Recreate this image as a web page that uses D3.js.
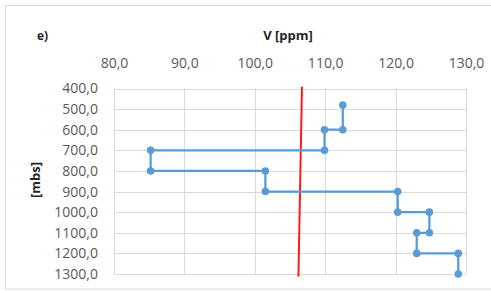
<!DOCTYPE html>
<html>
<head>
<meta charset="utf-8">
<script src="https://cdn.jsdelivr.net/npm/d3@7"></script>
<style>
  body { margin: 0; background: #fff; }
  svg { display: block; font-family: 'Open Sans', sans-serif; }
</style>
</head>
<body>
<div id="chart"></div>
<script>
// V [ppm] profile against depth (step line) + reference line
const vValues = [112.5, 112.5, 109.9, 109.9, 85.2, 85.2, 101.5, 101.5, 120.3, 120.3, 124.8, 124.8, 123.0, 123.0, 128.9, 128.9];
const depths  = [480, 600, 600, 700, 700, 800, 800, 900, 900, 1000, 1000, 1100, 1100, 1200, 1200, 1300];
const refV = [106.7, 106.2];
const refDepth = [392, 1312];
const xTicks = [80, 90, 100, 110, 120, 130];
const yTicks = [400, 500, 600, 700, 800, 900, 1000, 1100, 1200, 1300];

const w = 491, h = 291, m = {top: 88.5, right: 25, bottom: 17, left: 114};
const svg = d3.select('#chart').append('svg').attr('width', w).attr('height', h);

// outer frame
svg.append('rect').attr('x', 5.5).attr('y', 5.5).attr('width', 520).attr('height', 283.5)
  .attr('fill', 'none').attr('stroke', '#d9d9d9');

const x = d3.scaleLinear().domain([80, 130]).range([m.left, w - m.right]);
const y = d3.scaleLinear().domain([400, 1300]).range([m.top, h - m.bottom]);

// grid
svg.append('g').selectAll('line').data(xTicks).enter().append('line')
  .attr('x1', d => Math.round(x(d)) + 0.5).attr('x2', d => Math.round(x(d)) + 0.5)
  .attr('y1', y(400)).attr('y2', y(1300))
  .attr('stroke', '#d9d9d9');
svg.append('g').selectAll('line').data(yTicks).enter().append('line')
  .attr('x1', x(80)).attr('x2', x(130))
  .attr('y1', d => Math.round(y(d)) + 0.5).attr('y2', d => Math.round(y(d)) + 0.5)
  .attr('stroke', '#d9d9d9');

const fmt = d => d3.format('.1f')(d).replace('.', ',');

// axes (top & left), no domain lines
const xa = svg.append('g').attr('transform', `translate(0,${m.top})`)
  .call(d3.axisTop(x).tickValues(xTicks).tickFormat(fmt).tickSize(0).tickPadding(21));
const ya = svg.append('g').attr('transform', `translate(${m.left},0)`)
  .call(d3.axisLeft(y).tickValues(yTicks).tickFormat(fmt).tickSize(0).tickPadding(16));
[xa, ya].forEach(a => {
  a.select('.domain').remove();
  a.selectAll('text').attr('fill', '#595959').attr('font-size', '14px')
    .attr('font-family', "'Open Sans', sans-serif");
});

// reference line
const refData = refV.map((v, i) => ({v, d: refDepth[i]}));
svg.append('path').datum(refData)
  .attr('d', d3.line().x(d => x(d.v)).y(d => y(d.d)))
  .attr('fill', 'none').attr('stroke', '#ff1a1a').attr('stroke-width', 2);

// data
const data = vValues.map((v, i) => ({v, d: depths[i]}));
svg.append('path').datum(data)
  .attr('d', d3.line().x(d => x(d.v)).y(d => y(d.d)))
  .attr('fill', 'none').attr('stroke', '#5b9bd5').attr('stroke-width', 2.25);
svg.append('g').selectAll('circle').data(data).enter().append('circle')
  .attr('cx', d => x(d.v)).attr('cy', d => y(d.d)).attr('r', 3.8)
  .attr('fill', '#5b9bd5');

// titles
svg.append('text').attr('x', 37).attr('y', 40).attr('font-size', '12px').attr('font-weight', 'bold')
  .attr('fill', '#262626').text('e)');
svg.append('text').attr('x', 288).attr('y', 40).attr('text-anchor', 'middle')
  .attr('font-size', '13px').attr('font-weight', 'bold').attr('fill', '#262626').text('V [ppm]');
svg.append('text').attr('transform', 'translate(40,180) rotate(-90)').attr('text-anchor', 'middle')
  .attr('font-size', '13px').attr('font-weight', 'bold').attr('fill', '#262626').text('[mbs]');
</script>
</body>
</html>
